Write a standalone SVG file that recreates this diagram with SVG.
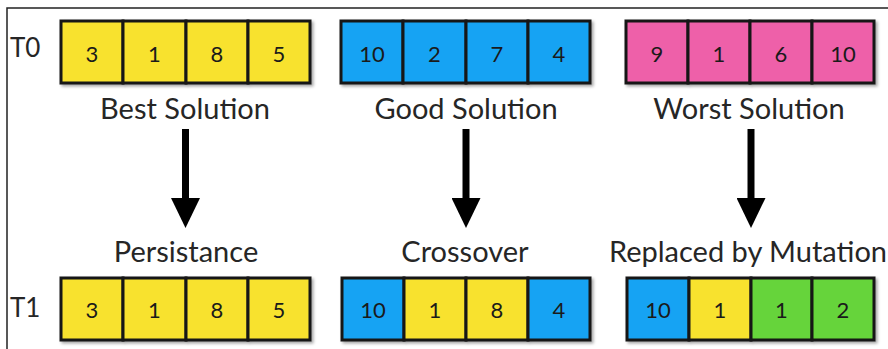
<svg xmlns="http://www.w3.org/2000/svg" width="888" height="349" viewBox="0 0 888 349">
  <style>
    .frame { fill: none; stroke: #222; stroke-width: 1.5; }
    .cell { stroke: #141414; stroke-width: 3; }
    .y { fill: #f8e22f; }
    .b { fill: #13a3f3; }
    .p { fill: #ee61a9; }
    .g { fill: #66d43b; }
    .num { font-family: Lato, "Open Sans", sans-serif; font-size: 22px; fill: #1a1a1a; text-anchor: middle; }
    .lbl { font-family: Lato, "Open Sans", sans-serif; font-size: 29px; fill: #262626; text-anchor: middle; }
    .row { font-family: Lato, "Open Sans", sans-serif; font-size: 26px; fill: #262626; }
    .shaft { stroke: #000; stroke-width: 7; fill: none; }
  </style>
  <defs>
    <filter id="shadow" x="-5%" y="-10%" width="115%" height="130%">
      <feDropShadow dx="2" dy="2" stdDeviation="1.5" flood-color="#000" flood-opacity="0.35"/>
    </filter>
    <marker id="head" viewBox="0 0 30 29" refX="0" refY="14.5" markerWidth="30" markerHeight="29" markerUnits="userSpaceOnUse" orient="auto">
      <path d="M0,0 L30,14.5 L0,29 z" fill="#000"/>
    </marker>
  </defs>

  <rect width="888" height="349" fill="#fff"/>
  <!-- outer frame: top and left edges only -->
  <path class="frame" d="M7,349 V8 H888"/>

  <!-- generation labels -->
  <text class="row" x="10" y="57">T0</text>
  <text class="row" x="10" y="317">T1</text>

  <!-- generation T0 -->
  <g id="best-solution">
    <g filter="url(#shadow)">
      <rect class="cell y" x="61" y="21" width="62" height="62"/>
      <rect class="cell y" x="123" y="21" width="63" height="62"/>
      <rect class="cell y" x="186" y="21" width="62" height="62"/>
      <rect class="cell y" x="248" y="21" width="62" height="62"/>
    </g>
    <text class="num" x="92" y="62">3</text>
    <text class="num" x="154.5" y="62">1</text>
    <text class="num" x="217" y="62">8</text>
    <text class="num" x="279" y="62">5</text>
    <text class="lbl" x="185" y="119">Best Solution</text>
  </g>

  <g id="good-solution">
    <g filter="url(#shadow)">
      <rect class="cell b" x="341" y="21" width="62" height="62"/>
      <rect class="cell b" x="403" y="21" width="63" height="62"/>
      <rect class="cell b" x="466" y="21" width="62" height="62"/>
      <rect class="cell b" x="528" y="21" width="62" height="62"/>
    </g>
    <text class="num" x="372" y="62">10</text>
    <text class="num" x="434.5" y="62">2</text>
    <text class="num" x="497" y="62">7</text>
    <text class="num" x="559" y="62">4</text>
    <text class="lbl" x="466" y="119">Good Solution</text>
  </g>

  <g id="worst-solution">
    <g filter="url(#shadow)">
      <rect class="cell p" x="626" y="21" width="62" height="62"/>
      <rect class="cell p" x="688" y="21" width="62" height="62"/>
      <rect class="cell p" x="750" y="21" width="62" height="62"/>
      <rect class="cell p" x="812" y="21" width="62" height="62"/>
    </g>
    <text class="num" x="657" y="62">9</text>
    <text class="num" x="719" y="62">1</text>
    <text class="num" x="781" y="62">6</text>
    <text class="num" x="843" y="62">10</text>
    <text class="lbl" x="749" y="119">Worst Solution</text>
  </g>

  <!-- generation T1 -->
  <g id="persistance">
    <text class="lbl" x="186" y="262">Persistance</text>
    <g filter="url(#shadow)">
      <rect class="cell y" x="61" y="278" width="62" height="62"/>
      <rect class="cell y" x="123" y="278" width="63" height="62"/>
      <rect class="cell y" x="186" y="278" width="62" height="62"/>
      <rect class="cell y" x="248" y="278" width="62" height="62"/>
    </g>
    <text class="num" x="92" y="318">3</text>
    <text class="num" x="154.5" y="318">1</text>
    <text class="num" x="217" y="318">8</text>
    <text class="num" x="279" y="318">5</text>
  </g>

  <g id="crossover">
    <text class="lbl" x="465" y="262">Crossover</text>
    <g filter="url(#shadow)">
      <rect class="cell b" x="342" y="278" width="62" height="62"/>
      <rect class="cell y" x="404" y="278" width="62" height="62"/>
      <rect class="cell y" x="466" y="278" width="62" height="62"/>
      <rect class="cell b" x="528" y="278" width="62" height="62"/>
    </g>
    <text class="num" x="373" y="318">10</text>
    <text class="num" x="435" y="318">1</text>
    <text class="num" x="497" y="318">8</text>
    <text class="num" x="559" y="318">4</text>
  </g>

  <g id="mutation">
    <text class="lbl" x="748" y="262">Replaced by Mutation</text>
    <g filter="url(#shadow)">
      <rect class="cell b" x="627" y="278" width="62" height="62"/>
      <rect class="cell y" x="689" y="278" width="62" height="62"/>
      <rect class="cell g" x="751" y="278" width="61" height="62"/>
      <rect class="cell g" x="812" y="278" width="62" height="62"/>
    </g>
    <text class="num" x="658" y="318">10</text>
    <text class="num" x="720" y="318">1</text>
    <text class="num" x="781.5" y="318">1</text>
    <text class="num" x="843" y="318">2</text>
  </g>

  <!-- transitions between generations -->
  <g id="connectors">
    <path class="shaft" d="M185.5,129 V198" marker-end="url(#head)"/>
    <path class="shaft" d="M466,129 V198" marker-end="url(#head)"/>
    <path class="shaft" d="M751,129 V198" marker-end="url(#head)"/>
  </g>
</svg>
